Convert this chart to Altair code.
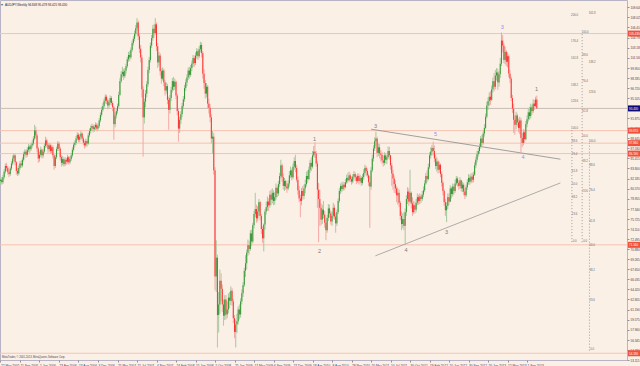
import altair as alt
import pandas as pd

# ---------------- data (AUDJPY weekly) ----------------
first_open = 81.8
close = [
    82.0, 81.6, 82.4, 83.3, 84.2, 83.9, 83.2, 82.9, 83.8, 84.6,
    85.4, 85.9, 84.8, 83.4, 83.0, 83.9, 84.6, 84.3, 85.2, 86.1,
    86.5, 86.0, 86.8, 87.3, 86.9, 87.5, 87.8, 88.6, 89.9, 89.1,
    87.0, 85.4, 86.0, 86.8, 85.9, 86.5, 87.4, 88.3, 87.6, 86.9,
    87.5, 86.6, 87.2, 85.9, 84.2, 85.6, 86.9, 87.8, 87.0, 85.6,
    84.7, 85.3, 84.5, 85.2, 84.9, 85.6, 84.8, 85.3, 85.9, 86.8,
    87.6, 87.9, 88.6, 89.2, 88.4, 88.9, 89.4, 88.6, 87.9, 87.5,
    88.2, 87.8, 89.1, 89.8, 90.3, 90.6, 90.1, 90.4, 90.8, 90.2,
    90.6, 91.5, 92.4, 93.2, 93.8, 94.6, 95.3, 94.7, 93.9, 94.4,
    95.1, 94.3, 93.6, 90.9, 92.3, 93.0, 93.8, 95.6, 97.8, 98.9,
    99.3, 98.6, 99.5, 100.2, 101.3, 102.0, 101.6, 102.8, 103.9, 104.6,
    105.4, 106.3, 107.2, 105.0, 103.0, 101.6, 96.5, 92.0, 94.5, 95.8,
    97.3, 99.6, 101.2, 103.5, 104.7, 106.2, 105.5, 106.9, 103.4, 100.8,
    101.9, 99.4, 98.2, 99.5, 97.6, 96.3, 97.0, 94.8, 93.2, 95.1,
    96.4, 97.8, 96.9, 97.7, 95.5, 93.0, 90.2, 91.6, 92.5, 93.8,
    94.9, 96.7, 97.6, 98.4, 99.5, 98.8, 99.9, 100.6, 101.5, 100.7,
    101.9, 102.6, 101.8, 102.9, 103.6, 102.3, 99.0, 97.5, 95.8, 96.9,
    94.2, 93.5, 92.0, 88.6, 88.9, 83.5, 66.5, 69.5, 60.3, 62.0,
    65.8, 64.5, 62.0, 60.2, 62.8, 60.4, 61.2, 63.1, 62.6, 64.2,
    62.5, 59.8, 57.6, 58.8, 59.3, 61.2, 60.4, 62.5, 63.8, 65.1,
    67.4, 68.6, 70.3, 71.5, 70.9, 73.4, 72.1, 74.7, 76.5, 77.3,
    75.8, 76.9, 78.4, 76.2, 74.1, 72.6, 74.8, 76.9, 77.6, 78.5,
    77.9, 79.6, 78.8, 79.9, 78.6, 79.2, 80.7, 79.8, 81.3, 82.6,
    84.3, 82.4, 81.0, 81.8, 80.9, 80.6, 81.4, 82.7, 83.5, 82.4,
    84.1, 85.0, 83.9, 82.0, 80.3, 79.0, 78.6, 80.2, 79.4, 80.6,
    81.3, 82.6, 82.1, 83.6, 84.7, 84.1, 85.9, 86.5, 86.2, 84.6,
    80.4, 78.9, 77.5, 75.6, 77.2, 76.4, 75.1, 73.9, 75.9, 77.4,
    76.6, 75.3, 76.2, 77.5, 76.1, 75.0, 76.8, 78.6, 80.2, 81.0,
    80.5, 81.2, 80.8, 81.6, 82.3, 81.9, 82.7, 82.1, 81.7, 82.5,
    82.9, 82.4, 81.8, 82.6, 81.8, 82.3, 81.5, 82.4, 83.1, 83.9,
    83.4, 82.7, 81.6, 80.9, 83.5, 85.4, 87.0, 88.2, 88.6, 86.3,
    87.2, 86.2, 86.0, 85.1, 84.7, 85.9, 85.2, 85.6, 86.6, 85.9,
    84.3, 83.0, 82.2, 81.3, 80.6, 79.5, 79.9, 78.3, 76.2, 74.9,
    75.7, 74.6, 76.8, 78.9, 80.1, 78.5, 79.9, 78.2, 76.8, 77.9,
    77.2, 78.3, 79.2, 78.6, 79.3, 78.9, 79.6, 80.3, 81.4, 82.6,
    82.1, 84.0, 85.9, 86.5, 87.1, 86.6, 85.4, 84.2, 84.9, 83.6,
    84.4, 82.9, 81.5, 80.2, 78.4, 77.1, 77.8, 79.2, 78.5, 80.6,
    79.7, 80.9, 80.2, 81.4, 82.2, 81.5, 81.0, 81.9, 80.6, 81.2,
    80.1, 79.5, 80.8, 81.6, 82.3, 81.7, 82.5, 82.0, 82.8, 84.3,
    85.2, 86.1, 86.6, 87.3, 88.6, 87.9, 89.4, 90.3, 92.1, 93.9,
    94.6, 95.3, 94.8, 96.5, 97.8, 96.9, 98.7, 99.2, 97.6, 98.9,
    100.6, 104.3, 103.5, 101.2, 102.5, 100.9, 101.8, 99.0, 98.2, 95.1,
    93.4, 91.6, 90.8, 92.3, 91.2, 90.3, 91.5, 88.7, 87.9, 89.6,
    88.5, 90.9, 91.7, 92.8, 92.2, 93.6, 93.0, 94.2, 93.8, 94.85,
    93.43,
]
high = [
    82.5, 82.4, 82.8, 83.7, 84.6, 84.7, 84.2, 83.6, 84.1, 85.0,
    85.9, 86.2, 86.1, 85.0, 83.9, 84.3, 85.0, 85.1, 85.6, 86.5,
    86.9, 86.8, 87.2, 87.7, 87.6, 87.9, 88.3, 89.0, 90.8, 90.5,
    89.4, 87.3, 86.5, 87.3, 87.0, 86.9, 87.8, 88.9, 88.6, 87.9,
    87.9, 87.8, 87.6, 87.5, 86.1, 86.0, 87.3, 88.2, 88.1, 87.3,
    85.9, 85.8, 85.6, 85.6, 85.5, 86.0, 85.8, 85.7, 86.3, 87.2,
    88.0, 88.3, 89.0, 89.6, 89.5, 89.3, 89.8, 89.6, 88.9, 88.3,
    88.6, 88.5, 89.5, 90.2, 90.7, 91.0, 90.9, 90.8, 91.2, 91.1,
    91.0, 91.9, 92.8, 93.7, 94.3, 95.0, 95.7, 95.6, 95.0, 94.8,
    95.5, 95.4, 94.6, 93.8, 92.8, 93.5, 94.2, 96.1, 98.3, 99.4,
    100.1, 99.8, 99.9, 100.6, 101.7, 102.5, 102.6, 103.2, 104.3, 105.0,
    105.9, 106.8, 107.9, 107.5, 105.4, 103.6, 102.0, 97.0, 95.0, 96.4,
    97.8, 100.1, 101.7, 104.0, 105.2, 106.8, 107.0, 107.9, 107.2, 103.9,
    102.5, 102.3, 99.8, 100.0, 99.8, 98.0, 97.6, 97.4, 95.3, 95.6,
    96.9, 98.3, 98.5, 98.2, 97.9, 95.8, 93.4, 92.1, 93.0, 94.3,
    95.4, 97.2, 98.1, 98.9, 100.0, 100.1, 100.4, 101.1, 102.0, 101.9,
    102.4, 103.1, 103.0, 103.4, 104.1, 104.0, 102.6, 99.7, 98.0, 97.5,
    97.2, 95.0, 94.1, 92.5, 89.8, 89.5, 84.0, 72.3, 70.0, 64.0,
    67.6, 67.0, 65.2, 62.8, 63.5, 63.5, 62.5, 63.8, 64.0, 64.9,
    64.6, 62.9, 60.3, 59.6, 60.5, 61.7, 62.0, 63.0, 64.4, 65.6,
    67.9, 69.9, 70.8, 72.4, 72.2, 73.9, 74.0, 75.1, 77.0, 79.9,
    78.0, 77.8, 78.9, 78.6, 76.5, 74.5, 75.0, 77.3, 78.5, 79.3,
    79.0, 80.2, 80.4, 80.6, 80.3, 80.0, 81.4, 81.0, 81.8, 83.1,
    85.2, 84.6, 83.0, 82.3, 82.0, 81.4, 81.9, 83.4, 84.1, 83.8,
    84.6, 85.6, 86.0, 84.4, 82.5, 81.0, 79.6, 80.7, 81.0, 81.2,
    82.0, 83.3, 83.5, 84.1, 85.2, 85.6, 86.6, 87.4, 88.0, 86.6,
    85.0, 81.5, 80.4, 78.2, 78.0, 78.6, 77.0, 75.6, 76.4, 78.1,
    78.0, 77.0, 76.9, 78.3, 78.0, 76.6, 77.2, 79.0, 80.7, 81.4,
    81.6, 81.7, 81.6, 82.1, 82.8, 83.1, 83.3, 83.0, 82.5, 82.9,
    83.4, 83.2, 82.7, 83.0, 83.0, 82.8, 82.6, 82.9, 83.7, 84.4,
    84.2, 83.8, 83.0, 82.6, 84.0, 86.0, 87.5, 88.8, 89.7, 88.9,
    87.8, 87.7, 86.8, 86.5, 85.9, 86.4, 86.3, 86.0, 87.3, 87.3,
    86.0, 84.7, 83.6, 82.7, 81.9, 81.0, 80.7, 80.4, 78.6, 76.9,
    76.6, 76.8, 77.4, 79.5, 80.8, 80.6, 83.6, 80.1, 79.2, 78.6,
    78.4, 78.9, 79.8, 79.6, 79.8, 79.7, 80.2, 80.9, 81.9, 83.1,
    83.5, 84.6, 86.4, 87.2, 87.6, 88.1, 87.5, 86.0, 85.6, 85.2,
    84.9, 84.6, 83.3, 81.8, 80.5, 78.9, 78.4, 79.8, 79.8, 81.1,
    80.9, 81.4, 81.3, 82.0, 82.6, 82.5, 81.9, 82.4, 82.0, 81.7,
    81.5, 80.6, 81.2, 82.1, 82.9, 82.8, 83.0, 83.1, 83.3, 84.8,
    85.7, 86.6, 87.1, 87.8, 89.0, 89.2, 89.8, 90.9, 92.6, 94.5,
    95.2, 96.0, 96.2, 97.1, 98.4, 99.1, 99.6, 99.9, 99.8, 99.4,
    101.5, 105.6, 105.2, 103.9, 103.3, 102.8, 102.4, 102.1, 99.6, 98.5,
    95.6, 94.2, 92.3, 92.9, 92.6, 91.8, 92.1, 91.9, 89.5, 90.1,
    90.0, 91.4, 92.3, 93.4, 93.7, 94.2, 94.0, 94.9, 94.8, 95.3,
    95.478,
]
low = [
    81.2, 81.2, 81.3, 82.1, 83.0, 83.4, 82.8, 82.4, 82.6, 83.5,
    84.3, 85.0, 84.3, 82.8, 82.6, 82.7, 83.6, 83.9, 84.0, 84.9,
    85.7, 85.5, 85.7, 86.4, 86.3, 86.6, 87.1, 87.5, 88.3, 88.6,
    86.4, 84.7, 84.9, 85.6, 85.4, 85.5, 86.2, 87.1, 87.2, 86.3,
    86.5, 86.2, 86.2, 85.4, 83.6, 83.9, 85.3, 86.6, 86.6, 85.1,
    84.1, 84.3, 84.1, 84.2, 84.4, 84.6, 84.4, 84.5, 85.0, 85.6,
    86.5, 87.2, 87.6, 88.3, 88.0, 88.0, 88.5, 88.2, 87.5, 87.0,
    87.2, 87.3, 87.6, 88.8, 89.4, 89.9, 89.6, 89.7, 90.0, 89.8,
    89.9, 90.3, 91.2, 92.1, 92.9, 93.4, 94.2, 94.1, 93.3, 93.5,
    94.0, 93.9, 93.0, 88.4, 90.4, 91.8, 92.6, 93.5, 95.4, 97.5,
    98.4, 98.0, 98.3, 99.0, 99.9, 100.9, 101.0, 101.3, 102.5, 103.5,
    104.2, 105.0, 105.9, 104.4, 102.3, 100.8, 95.2, 85.7, 91.0, 93.6,
    95.2, 96.9, 99.1, 100.8, 103.1, 104.3, 104.8, 105.2, 102.6, 99.9,
    100.2, 98.7, 97.4, 97.9, 97.0, 95.5, 95.8, 94.1, 90.0, 92.6,
    94.6, 96.0, 96.3, 96.4, 94.9, 92.3, 88.1, 89.5, 90.9, 92.0,
    93.3, 94.5, 96.2, 97.0, 98.0, 98.2, 98.5, 99.4, 100.1, 100.1,
    100.4, 101.4, 101.2, 101.5, 102.4, 101.6, 98.2, 96.6, 95.0, 95.2,
    93.5, 92.6, 91.2, 87.8, 86.2, 82.8, 64.3, 64.0, 55.1, 57.5,
    60.5, 62.5, 60.8, 58.6, 59.5, 59.6, 59.8, 60.6, 61.4, 61.9,
    61.8, 59.0, 56.6, 55.1, 57.4, 58.8, 59.6, 59.9, 62.0, 63.2,
    64.8, 66.4, 67.6, 69.8, 70.0, 70.6, 71.4, 71.8, 74.2, 76.0,
    75.1, 75.3, 76.2, 75.5, 73.3, 71.9, 70.5, 74.0, 76.4, 77.0,
    77.0, 77.5, 77.9, 78.2, 77.9, 78.0, 78.8, 79.2, 79.4, 80.8,
    82.2, 81.7, 80.4, 80.2, 80.4, 79.9, 80.3, 80.9, 82.3, 81.9,
    82.1, 83.6, 83.2, 81.6, 79.6, 78.4, 76.0, 77.9, 78.8, 78.9,
    79.8, 80.9, 81.5, 81.9, 83.1, 83.4, 83.8, 85.6, 85.5, 84.1,
    77.5, 72.0, 74.6, 74.7, 74.9, 75.8, 74.3, 72.3, 73.5, 75.4,
    75.9, 74.8, 74.6, 75.8, 75.6, 73.5, 74.6, 76.5, 78.3, 79.7,
    80.0, 80.2, 80.3, 80.6, 81.3, 81.5, 81.7, 81.6, 81.2, 81.4,
    82.1, 81.8, 81.3, 81.5, 81.2, 81.4, 81.0, 81.2, 82.0, 82.8,
    82.6, 82.3, 81.0, 74.3, 80.4, 83.2, 84.9, 86.6, 87.4, 85.6,
    85.8, 85.4, 84.9, 84.6, 84.1, 84.3, 84.6, 84.5, 85.4, 85.2,
    83.6, 81.0, 80.4, 79.9, 79.8, 78.4, 78.0, 77.6, 75.5, 73.9,
    74.2, 73.9, 71.6, 76.2, 78.1, 77.8, 78.2, 77.4, 76.2, 76.5,
    76.6, 76.8, 77.9, 78.0, 78.1, 78.3, 78.6, 79.2, 80.0, 81.2,
    81.6, 81.9, 83.7, 85.4, 85.9, 85.9, 84.8, 83.7, 83.3, 83.0,
    83.1, 82.4, 80.9, 79.5, 77.8, 76.2, 75.2, 77.3, 77.9, 78.4,
    79.0, 79.3, 79.6, 79.9, 81.1, 80.9, 80.4, 80.6, 80.1, 80.0,
    79.5, 78.9, 79.2, 80.4, 81.2, 81.2, 81.4, 81.5, 81.6, 82.6,
    83.9, 84.8, 85.7, 86.1, 87.0, 87.3, 87.6, 88.9, 90.1, 91.8,
    93.2, 93.8, 94.0, 94.6, 96.0, 96.2, 96.5, 97.9, 96.4, 96.9,
    98.3, 100.2, 102.4, 100.7, 100.5, 100.2, 100.0, 98.4, 97.5, 94.6,
    92.7, 89.5, 89.2, 90.1, 90.5, 89.6, 89.3, 86.3, 87.2, 87.5,
    87.9, 88.3, 90.4, 91.3, 91.6, 91.8, 92.4, 92.7, 93.2, 93.6,
    93.425,
]

date_labels = [
    "22 May 2005", "11 Sep 2005", "1 Jan 2006", "23 Apr 2006", "13 Aug 2006",
    "3 Dec 2006", "25 Mar 2007", "15 Jul 2007", "4 Nov 2007", "24 Feb 2008",
    "15 Jun 2008", "5 Oct 2008", "25 Jan 2009", "17 May 2009", "6 Sep 2009",
    "27 Dec 2009", "18 Apr 2010", "8 Aug 2010", "28 Nov 2010", "20 Mar 2011",
    "10 Jul 2011", "30 Oct 2011", "19 Feb 2012", "10 Jun 2012", "30 Sep 2012",
    "20 Jan 2013", "12 May 2013", "1 Sep 2013",
]
label_step = 16

price_ticks = [
    109.640, 108.025, 106.410, 104.795, 103.180, 101.565, 99.950, 98.335,
    96.720, 95.105, 91.875, 90.260, 88.645, 87.030, 85.415, 83.800,
    82.185, 80.570, 78.955, 77.340, 75.725, 74.110, 72.495, 70.880, 69.265,
    67.650, 66.035, 64.420, 62.805, 61.190, 59.575, 57.960, 56.345, 54.730,
    53.115,
]

red_levels = [105.43, 89.87, 87.86, 86.19, 71.56, 54.18]
bid_price = 93.43

wave_text = ["1", "2", "3", "4", "5", "3", "3", "4", "1"]
wave_i = [257.6, 261.7, 307.6, 332.8, 356.9, 365.9, 411.6, 428.8, 439.7]
wave_p = [88.54, 70.60, 90.63, 70.76, 89.35, 73.65, 106.50, 85.66, 96.55]
wave_kind = ["g", "g", "g", "g", "b", "g", "b", "b", "g"]

trend_i1 = [304.0, 307.6]
trend_p1 = [90.10, 69.80]
trend_i2 = [459.4, 459.4]
trend_p2 = [85.29, 81.49]

fib_line_i = [468.8, 477.2, 483.2]
fib_text_i = [471.0, 479.6, 485.4]
fib_p0 = [72.0, 72.0, 54.6]
fib_p100 = [90.1, 105.5, 87.9]
fib_levels = [
    [0.0, 23.6, 38.2, 50.0, 61.8, 76.4, 88.6, 100.0, 123.6, 138.2, 161.8, 176.4, 200.0],
    [0.0, 23.6, 38.2, 50.0, 61.8, 76.4, 88.6, 100.0],
    [0.0, 23.6, 38.2, 50.0, 61.8, 76.4, 88.6, 100.0, 123.6, 138.2, 161.8],
]

header = "AUDJPY,Weekly  94.848 95.478 93.425 93.430"
copyright_text = "MetaTrader, \u00a9 2001-2013, MetaQuotes Software Corp."

# ---------------- frames ----------------
opens = [first_open] + close[:-1]
opens[-1] = 94.848
candles = pd.DataFrame({"i": list(range(len(close))), "o": opens, "c": close,
                        "h": high, "l": low})
up = candles["c"] >= candles["o"]
candles["wick_col"] = ["#a3c99e" if u else "#f5a8a4" for u in up]
candles["body_col"] = ["#339633" if u else "#ff3030" for u in up]

levels_df = pd.DataFrame({"p": red_levels})
bid_df = pd.DataFrame({"p": [bid_price]})
waves = pd.DataFrame({"i": wave_i, "p": wave_p, "t": wave_text,
                      "col": ["#7c7c7c" if k == "g" else "#8f8ff0" for k in wave_kind]})
trends = pd.DataFrame({"i1": trend_i1, "p1": trend_p1, "i2": trend_i2, "p2": trend_p2,
                       "col": ["#8a8a8a", "#9a9a9a"]})
fib_lines = pd.DataFrame({"i": fib_line_i, "p0": fib_p0, "p1": fib_p100})
rows = []
for k, lv in enumerate(fib_levels):
    for v in lv:
        rows.append({"i": fib_text_i[k],
                     "p": fib_p0[k] + (fib_p100[k] - fib_p0[k]) * v / 100.0,
                     "t": f"{v:.1f}"})
fib_labels = pd.DataFrame(rows)
boxes = pd.DataFrame({"p": red_levels + [bid_price],
                      "col": ["#f0503c"] * len(red_levels) + ["#0a0a78"]})
boxes["t"] = [f"{v:.3f}" for v in boxes["p"]]

# ---------------- scales / axes ----------------
FONT = "Liberation Sans"
xs = alt.Scale(domain=[-0.4, 514.0], nice=False, zero=False)
ys = alt.Scale(domain=[53.10, 110.81], nice=False, zero=False)
labels_js = "[" + ",".join("'" + s + "'" for s in date_labels) + "]"
x_axis = alt.Axis(values=[k * label_step for k in range(len(date_labels))],
                  labelExpr=labels_js + "[round(datum.value / " + str(label_step) + ")]",
                  orient="bottom", title=None, grid=False, domain=False,
                  labelAlign="left", labelBaseline="top", labelFontSize=3.2,
                  labelFont=FONT, labelColor="#3c3c60", labelPadding=1,
                  labelOverlap=False, labelFlush=False, tickSize=2, tickColor="#9090a0")
y_axis = alt.Axis(values=price_ticks, format=".3f", orient="right", title=None,
                  grid=False, domain=False, labelFontSize=3.0, labelFont=FONT,
                  labelColor="#3c3c60", labelPadding=1, labelOverlap=False,
                  labelFlush=False, tickSize=2, tickColor="#9090a0")


def X(f):
    return alt.X(f, type="quantitative", scale=xs, axis=x_axis)


def Y(f):
    return alt.Y(f, type="quantitative", scale=ys, axis=y_axis)


lvl = alt.Chart(levels_df).mark_rule(color="#f6c2b2", strokeWidth=1).encode(y=Y("p"))
bid = alt.Chart(bid_df).mark_rule(color="#c6beb6", strokeWidth=1).encode(y=Y("p"))
trend = alt.Chart(trends).mark_rule(strokeWidth=0.8).encode(
    x=X("i1"), y=Y("p1"), x2="i2", y2="p2", color=alt.Color("col:N", scale=None))
fibl = alt.Chart(fib_lines).mark_rule(color="#8a8a8a", strokeWidth=0.8,
                                      strokeDash=[1, 2]).encode(x=X("i"), y=Y("p0"), y2="p1")
wick = alt.Chart(candles).mark_rule(strokeWidth=1).encode(
    x=X("i"), y=Y("l"), y2="h", color=alt.Color("wick_col:N", scale=None))
body = alt.Chart(candles).mark_rule(strokeWidth=1).encode(
    x=X("i"), y=Y("o"), y2="c", color=alt.Color("body_col:N", scale=None))
wave_txt = alt.Chart(waves).mark_text(fontSize=5.5, font=FONT).encode(
    x=X("i"), y=Y("p"), text="t:N", color=alt.Color("col:N", scale=None))
fib_txt = alt.Chart(fib_labels).mark_text(fontSize=2.8, font=FONT, color="#6a6a6a",
                                          baseline="bottom").encode(
    x=X("i"), y=Y("p"), text="t:N")
box = alt.Chart(boxes).mark_point(shape="M-1,-0.5H1V0.5H-1Z", size=144, filled=True,
                                  opacity=1, strokeWidth=0).encode(
    x=alt.value(634), y=Y("p"), color=alt.Color("col:N", scale=None))
box_txt = alt.Chart(boxes).mark_text(fontSize=3.0, font=FONT, color="white",
                                     align="left").encode(
    x=alt.value(629), y=Y("p"), text="t:N")
head = alt.Chart(pd.DataFrame({"t": [header]})).mark_text(
    fontSize=3.0, font=FONT, color="#202030", align="left", baseline="middle").encode(
    x=alt.value(5), y=alt.value(5), text="t:N")
head_icon = alt.Chart(pd.DataFrame({"t": ["\u25be"]})).mark_text(
    fontSize=4, font=FONT, color="#606060", align="left", baseline="middle").encode(
    x=alt.value(1), y=alt.value(5), text="t:N")
copy_txt = alt.Chart(pd.DataFrame({"t": [copyright_text]})).mark_text(
    fontSize=2.6, font=FONT, color="#404050", align="left", baseline="middle").encode(
    x=alt.value(2), y=alt.value(357), text="t:N")

chart = alt.layer(
    lvl, bid, trend, fibl, wick, body, wave_txt, fib_txt, box, box_txt,
    head_icon, head, copy_txt,
).properties(
    width=627, height=360,
    autosize=alt.AutoSizeParams(type="none"),
    padding={"left": 0, "top": 0, "right": 13, "bottom": 6},
).configure(background="#FAF0E6").configure_view(fill="#FAF0E6", stroke="#b8b4c4",
                                                  strokeWidth=1)

chart.save("out.html", embed_options={"renderer": "svg", "actions": False})
